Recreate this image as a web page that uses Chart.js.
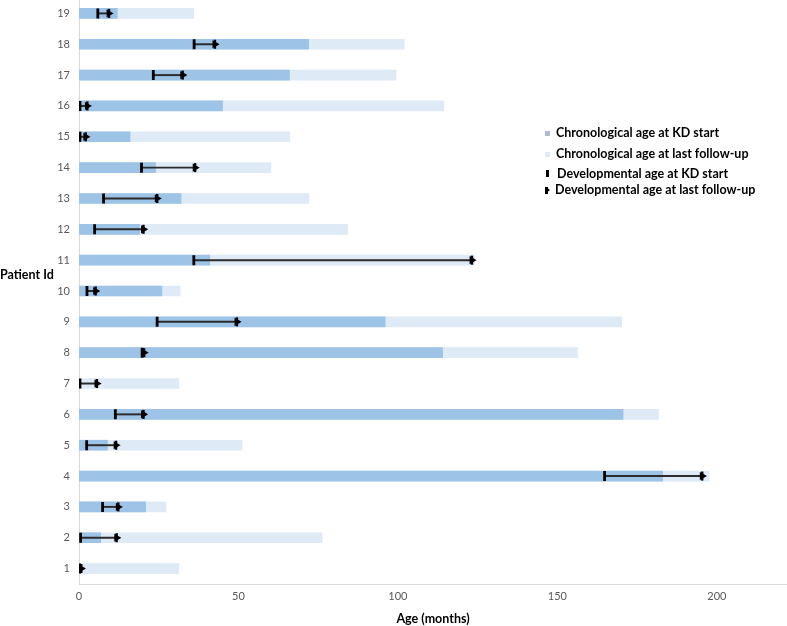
<!DOCTYPE html>
<html>
<head>
<meta charset="utf-8">
<script src="https://cdn.jsdelivr.net/npm/chart.js@4"></script>
<style>
  html, body { margin: 0; padding: 0; background: #fff; }
  #wrap { position: relative; width: 787px; height: 626px; overflow: hidden; }
  #wrap canvas { position: absolute; left: 0; top: -2px; }
  .ttl { position: absolute; font-family: Lato, "Open Sans", sans-serif; font-weight: bold; font-size: 12.5px; color: #000; white-space: nowrap; }
  .leg { position: absolute; font-family: Lato, "Open Sans", sans-serif; font-weight: bold; font-size: 12.5px; color: #000; white-space: nowrap; line-height: 14px; }
  .sw { position: absolute; }
</style>
</head>
<body>
<div id="wrap">
  <canvas id="c" width="787" height="628"></canvas>
  <div class="ttl" style="left:0px; top:267px;">Patient Id</div>
  <div class="sw" style="left:545px; top:131px; width:5px; height:5px; background:#a9bcd3;"></div>
  <div class="leg" style="left:556px; top:126px;">Chronological age at KD start</div>
  <div class="sw" style="left:545px; top:152px; width:5px; height:5px; background:#e3e9f1;"></div>
  <div class="leg" style="left:556px; top:147px;">Chronological age at last follow-up</div>
  <div class="sw" style="left:546px; top:170px; width:2.5px; height:7px; background:#000;"></div>
  <div class="leg" style="left:557px; top:167px;">Developmental age at KD start</div>
  <div class="sw" style="left:546px; top:187px; width:0; height:0; border-top:3.5px solid transparent; border-bottom:3.5px solid transparent; border-left:4.5px solid #000;"></div>
  <div class="sw" style="left:545px; top:187px; width:2.5px; height:7px; background:#000;"></div>
  <div class="leg" style="left:555px; top:183px;">Developmental age at last follow-up</div>
</div>
<script>
const patients = ['1','2','3','4','5','6','7','8','9','10','11','12','13','14','15','16','17','18','19'];
const chronoKdStart = [0, 6.8, 20.9, 183, 8.9, 170.6, 0, 114, 96, 26, 41, 19, 32, 24, 16, 45, 66, 72, 12];
const chronoFollowUp = [31.3, 76.2, 27.3, 197.6, 51.1, 181.7, 31.3, 156.3, 170.2, 31.7, 124, 84.2, 72.1, 60.2, 66.1, 114.4, 99.4, 102, 36];
const devKdStart = [0.2, 0.5, 7.4, 164.8, 2.4, 11.4, 0.3, 19.8, 24.5, 2.5, 36, 4.9, 7.7, 19.6, 0.3, 0.3, 23.3, 36.1, 5.9];
const devFollowUp = [0.7, 11.8, 12.3, 195.4, 11.6, 20.2, 5.6, 20.4, 49.5, 5.2, 123.2, 20.2, 24.5, 36.4, 2.1, 2.6, 32.5, 42.6, 9.4];
const xTicks = [0, 50, 100, 150, 200];

const tickFont = { family: 'Lato, "Open Sans", sans-serif', size: 11 };

new Chart(document.getElementById('c'), {
  type: 'bar',
  data: {
    labels: patients,
    datasets: [
      {
        type: 'line', label: 'Developmental age at last follow-up',
        data: patients.map((p, i) => ({ x: devFollowUp[i], y: p })),
        showLine: false, pointStyle: 'triangle', rotation: 90, pointRadius: 3.2,
        backgroundColor: '#000', borderColor: '#000', borderWidth: 1.5, order: 0
      },
      {
        type: 'line', label: 'Developmental age at last follow-up (bar)',
        data: patients.map((p, i) => ({ x: devFollowUp[i], y: p })),
        showLine: false, pointStyle: 'line', rotation: 90, pointRadius: 4.5,
        backgroundColor: '#000', borderColor: '#000', borderWidth: 2.5, order: 0
      },
      {
        type: 'line', label: 'Developmental age at KD start',
        data: patients.map((p, i) => ({ x: devKdStart[i], y: p })),
        showLine: false, pointStyle: 'line', rotation: 90, pointRadius: 5,
        backgroundColor: '#000', borderColor: '#000', borderWidth: 2.8, order: 0
      },
      {
        label: 'range',
        data: patients.map((p, i) => [devKdStart[i], devFollowUp[i]]),
        backgroundColor: '#2b2b2b', barThickness: 1.3, grouped: false, order: 1
      },
      {
        label: 'Chronological age at KD start',
        data: chronoKdStart,
        backgroundColor: '#9dc3e6', barThickness: 10, grouped: false, order: 2
      },
      {
        label: 'Chronological age at last follow-up',
        data: chronoFollowUp,
        backgroundColor: '#deeaf6', barThickness: 10, grouped: false, order: 3
      }
    ]
  },
  options: {
    indexAxis: 'y',
    responsive: false,
    animation: false,
    layout: { autoPadding: false, padding: { left: 0, right: 0, top: 0, bottom: 0 } },
    plugins: { legend: { display: false }, tooltip: { enabled: false } },
    scales: {
      x: {
        type: 'linear', min: 0, max: 222,
        afterBuildTicks: s => { s.ticks = xTicks.map(v => ({ value: v })); },
        grid: { display: false, drawTicks: false },
        border: { display: true, color: '#d9d9d9', width: 1 },
        ticks: { color: '#595959', font: tickFont, padding: 6 },
        title: { display: true, text: 'Age (months)', color: '#000', font: { family: 'Lato, "Open Sans", sans-serif', size: 12.5, weight: 'bold' }, padding: { top: 5, bottom: 0 } },
        afterFit: s => { s.height = 42; s.paddingRight = 0; }
      },
      y: {
        type: 'category', reverse: true,
        grid: { display: false, drawTicks: false },
        border: { display: true, color: '#d9d9d9', width: 1 },
        ticks: { color: '#595959', font: tickFont, padding: 9 },
        afterFit: s => { s.width = 79; s.paddingTop = 0; s.paddingBottom = 0; }
      }
    }
  }
});
</script>
</body>
</html>
